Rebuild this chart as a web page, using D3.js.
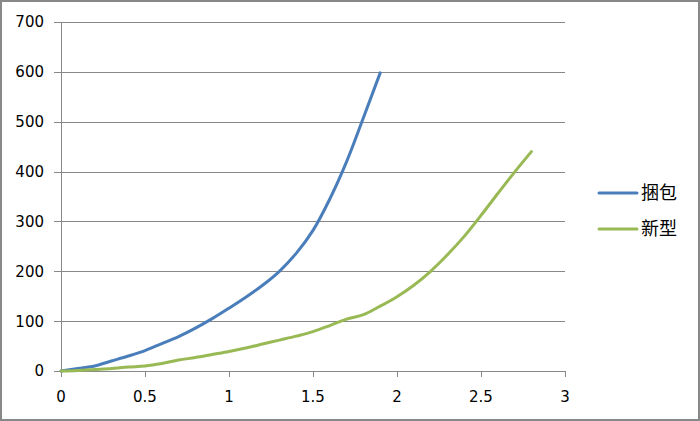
<!DOCTYPE html>
<html><head><meta charset="utf-8">
<script src="https://cdn.jsdelivr.net/npm/d3@7"></script>
<style>body{margin:0;background:#fff}svg{display:block}</style>
</head><body>
<svg id="c" width="700" height="421"></svg>
<script>
const seriesNames = ["捆包", "新型"];
const xBundle = [0,0.1,0.2,0.3,0.4,0.5,0.6,0.7,0.8,0.9,1.0,1.1,1.2,1.3,1.4,1.5,1.6,1.7,1.8,1.9];
const yBundle = [0,5,10,20,30,41,55,69,86,105,126,148,172,200,236,282,345,420,508,598];
const xNew = [0,0.1,0.2,0.3,0.4,0.5,0.6,0.7,0.8,0.9,1.0,1.1,1.2,1.3,1.4,1.5,1.6,1.7,1.8,1.9,2.0,2.1,2.2,2.3,2.4,2.5,2.6,2.7,2.8];
const yNew = [0,1,3,5,8,10,15,22,27,33,39,46,54,62,70,79,91,104,113,130,149,172,200,233,270,312,356,399,440];
const xTicks = [0,0.5,1,1.5,2,2.5,3];
const yTicks = [0,100,200,300,400,500,600,700];
const colors = ["#4A7EBB", "#98B954"];

const svg = d3.select("#c");
const font = "'DejaVu Sans', sans-serif";
svg.append("rect").attr("x",1).attr("y",1).attr("width",698).attr("height",419)
  .attr("fill","#fff").attr("stroke","#888").attr("stroke-width",2);

const x = d3.scaleLinear().domain([0,3]).range([61,565]);
const y = d3.scaleLinear().domain([0,700]).range([371,22]);

svg.append("g").selectAll("line").data(yTicks).join("line")
  .attr("x1",54).attr("x2",565).attr("y1",d=>Math.round(y(d))+0.5).attr("y2",d=>Math.round(y(d))+0.5)
  .attr("stroke","#888").attr("stroke-width",1);
svg.append("line").attr("x1",61.5).attr("x2",61.5).attr("y1",22).attr("y2",371).attr("stroke","#888");
svg.append("g").selectAll("line").data(xTicks).join("line")
  .attr("x1",d=>Math.round(x(d))+0.5).attr("x2",d=>Math.round(x(d))+0.5).attr("y1",371).attr("y2",377)
  .attr("stroke","#888");

svg.append("g").selectAll("text").data(yTicks).join("text")
  .attr("x",44).attr("y",d=>y(d)).attr("dy","0.36em").attr("text-anchor","end")
  .attr("font-family",font).attr("font-size",15).attr("fill","#000").text(d=>d);
svg.append("g").selectAll("text").data(xTicks).join("text")
  .attr("x",d=>x(d)).attr("y",397).attr("dy","0.36em").attr("text-anchor","middle")
  .attr("font-family",font).attr("font-size",15).attr("fill","#000").text(d=>d);

const line = d3.line().x(d=>x(d[0])).y(d=>y(d[1])).curve(d3.curveCatmullRom.alpha(0.5));
const data = [d3.zip(xBundle,yBundle), d3.zip(xNew,yNew)];
data.forEach((s,i)=>{
  svg.append("path").datum(s).attr("d",line).attr("fill","none")
    .attr("stroke",colors[i]).attr("stroke-width",3).attr("stroke-linecap","round").attr("stroke-linejoin","round");
});

seriesNames.forEach((n,i)=>{
  const ly = 193 + i*36;
  svg.append("line").attr("x1",599).attr("x2",637).attr("y1",ly).attr("y2",ly)
    .attr("stroke",colors[i]).attr("stroke-width",3).attr("stroke-linecap","round");
  svg.append("text").attr("x",641).attr("y",ly).attr("dy","0.36em")
    .attr("font-family","'Noto Sans CJK SC', sans-serif").attr("font-size",18).attr("fill","#000").text(n);
});
</script>
</body></html>
